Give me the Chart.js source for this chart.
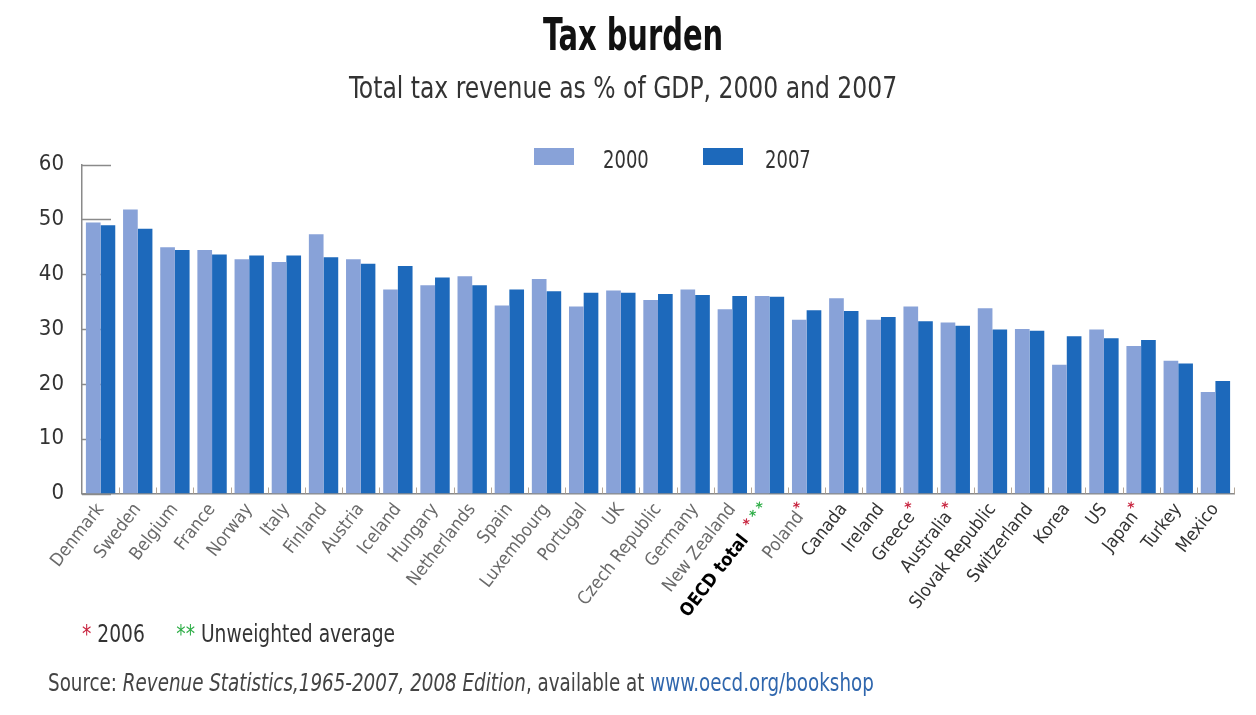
<!DOCTYPE html>
<html>
<head>
<meta charset="utf-8">
<title>Tax burden</title>
<script src="https://cdn.jsdelivr.net/npm/chart.js@4.4.1/dist/chart.umd.min.js"></script>
<style>
  html, body { margin: 0; padding: 0; background: #fff; }
  body {
    width: 1256px; height: 715px; position: relative; overflow: hidden;
    font-family: "Liberation Sans Narrow", "DejaVu Sans Condensed", "Liberation Sans", sans-serif;
    color: #333;
  }
  #chartBox { position: absolute; left: 0; top: 0; width: 1256px; height: 715px; }
  .txt { position: absolute; white-space: nowrap; line-height: 1; }
  #title { left: 633px; top: 13px; font-size: 44px; font-weight: bold; color: #111; transform: translateX(-50%) scaleX(0.73); }
  #subtitle { left: 623px; top: 73px; font-size: 30px; color: #333; transform: translateX(-50%) scaleX(0.87); }
  .legend-item { position: absolute; top: 147px; height: 20px; }
  .legend-swatch { position: absolute; top: 1px; width: 40px; height: 17px; }
  .legend-label { position: absolute; top: 0; font-size: 25px; line-height: 1; color: #333; transform-origin: left center; transform: scaleX(0.8); }
  #notes { left: 82px; top: 621px; font-size: 25px; color: #333; transform-origin: left center; transform: scaleX(0.83); }
  #notes .gap { display: inline-block; width: 38px; }
  #source { left: 48px; top: 671px; font-size: 24px; color: #444; transform-origin: left center; transform: scaleX(0.848); }
  .red { color: #c8243f; }
  .green { color: #2fae48; }
  .link { color: #2f66ad; }
</style>
</head>
<body>
<div id="chartBox"><canvas id="chart" width="1256" height="715"></canvas></div>
<div class="txt" id="title">Tax burden</div>
<div class="txt" id="subtitle">Total tax revenue as % of GDP, 2000 and 2007</div>
<div id="legend"></div>
<div class="txt" id="notes"><span class="red">*</span> 2006<span class="gap"></span><span class="green">**</span> Unweighted average</div>
<div class="txt" id="source">Source: <i>Revenue Statistics,1965-2007, 2008 Edition</i>, available at <span class="link">www.oecd.org/bookshop</span></div>

<script>
// Total tax revenue as % of GDP
const countries = [
  'Denmark', 'Sweden', 'Belgium', 'France', 'Norway', 'Italy', 'Finland', 'Austria',
  'Iceland', 'Hungary', 'Netherlands', 'Spain', 'Luxembourg', 'Portugal', 'UK',
  'Czech Republic', 'Germany', 'New Zealand', 'OECD total', 'Poland', 'Canada',
  'Ireland', 'Greece', 'Australia', 'Slovak Republic', 'Switzerland', 'Korea', 'US',
  'Japan', 'Turkey', 'Mexico'
];
const revenue2000 = [
  49.4, 51.8, 44.9, 44.4, 42.7, 42.2, 47.3, 42.7, 37.2, 38.0, 39.6, 34.3, 39.1, 34.1, 37.0,
  35.3, 37.2, 33.6, 36.0, 31.7, 35.6, 31.7, 34.1, 31.2, 33.8, 30.0, 23.5, 29.9, 26.9, 24.2, 18.5
];
const revenue2007 = [
  48.9, 48.3, 44.4, 43.6, 43.4, 43.4, 43.1, 41.9, 41.5, 39.4, 38.0, 37.2, 36.9, 36.6, 36.6,
  36.4, 36.2, 36.0, 35.9, 33.4, 33.3, 32.2, 31.4, 30.6, 29.9, 29.7, 28.7, 28.3, 28.0, 23.7, 20.5
];
const yearLabels = ['2000', '2007'];
const yTicks = [0, 10, 20, 30, 40, 50, 60];
// Footnote markers: * = 2006 figure, ** = unweighted average
const figures2006 = ['OECD total', 'Poland', 'Greece', 'Australia', 'Japan'];
const unweightedAverage = ['OECD total'];

const FONT = '"Liberation Sans Narrow", "DejaVu Sans Condensed", "Liberation Sans", sans-serif';
const COLOR_2000 = '#88a2d8';
const COLOR_2007 = '#1d69bb';
const AXIS_GREY = '#8a8a8a';

function markersFor(name) {
  const m = [];
  if (figures2006.includes(name)) m.push('red');
  if (unweightedAverage.includes(name)) { m.push('green'); m.push('green'); }
  return m;
}

// Inward tick marks on the value axis and small separators on the category axis
const axisMarks = {
  id: 'axisMarks',
  beforeDatasetsDraw(chart) {
    const { ctx, chartArea, scales } = chart;
    const y = scales.y, x = scales.x;
    ctx.save();
    ctx.strokeStyle = AXIS_GREY;
    ctx.lineWidth = 1.5;
    y.ticks.forEach(t => {
      const py = Math.round(y.getPixelForValue(t.value)) + 0.5;
      ctx.beginPath();
      ctx.moveTo(chartArea.left, py);
      ctx.lineTo(chartArea.left + 29, py);
      ctx.stroke();
    });
    ctx.strokeStyle = '#b2a596';
    ctx.lineWidth = 1;
    const n = countries.length;
    for (let i = 1; i <= n; i++) {
      const px = i < n ? (x.getPixelForTick(i - 1) + x.getPixelForTick(i)) / 2 : chartArea.right;
      const xx = Math.round(px) + 0.5;
      ctx.beginPath();
      ctx.moveTo(xx, chartArea.bottom);
      ctx.lineTo(xx, chartArea.bottom - 6);
      ctx.stroke();
    }
    ctx.restore();
  },
  afterDraw(chart) {
    // coloured footnote stars at the end of the rotated category labels
    const { ctx, scales } = chart;
    const items = scales.x.getLabelItems();
    ctx.save();
    items.forEach((item, i) => {
      const marks = markersFor(countries[i]);
      if (!marks.length) return;
      const [tx, ty] = item.options.translation;
      ctx.save();
      ctx.translate(tx, ty);
      ctx.rotate(item.options.rotation);
      ctx.font = 'bold 15px ' + FONT;
      ctx.textAlign = 'right';
      ctx.textBaseline = 'middle';
      for (let k = 0; k < marks.length; k++) {
        ctx.fillStyle = marks[marks.length - 1 - k] === 'red' ? '#c8243f' : '#2fae48';
        ctx.fillText('*', -2 - k * 10.5, item.textOffset - 5);
      }
      ctx.restore();
    });
    ctx.restore();
  }
};

const chart = new Chart(document.getElementById('chart'), {
  type: 'bar',
  data: {
    labels: countries,
    datasets: [
      { label: yearLabels[0], data: revenue2000, backgroundColor: COLOR_2000 },
      { label: yearLabels[1], data: revenue2007, backgroundColor: COLOR_2007 }
    ]
  },
  options: {
    responsive: false,
    animation: false,
    events: [],
    layout: { padding: { top: 164.5, right: 22, bottom: 0, left: 0 } },
    datasets: { bar: { categoryPercentage: 0.79, barPercentage: 1.0 } },
    plugins: {
      legend: { display: false },
      title: { display: false },
      tooltip: { enabled: false }
    },
    scales: {
      x: {
        grid: { display: false, drawTicks: false },
        border: { display: true, color: AXIS_GREY, width: 1.5 },
        ticks: {
          autoSkip: false,
          minRotation: 52,
          maxRotation: 52,
          padding: 6,
          font: (c) => ({ family: FONT, size: 18, weight: countries[c.index] === 'OECD total' ? 'bold' : 'normal' }),
          color: (c) => countries[c.index] === 'OECD total' ? '#000' : (c.index > 19 ? '#333' : '#6a6a6a'),
          callback: (v, i) => {
            const n = markersFor(countries[i]).length;
            return countries[i] + ' '.repeat(n > 1 ? 7 : n * 2);
          }
        },
        afterFit: (s) => { s.height = 221.5; }
      },
      y: {
        min: yTicks[0],
        max: yTicks[yTicks.length - 1],
        afterBuildTicks: (s) => { s.ticks = yTicks.map(v => ({ value: v })); },
        grid: { display: false, drawTicks: false },
        border: { display: true, color: AXIS_GREY, width: 1.5 },
        ticks: {
          padding: 18,
          color: '#333',
          font: { family: FONT, size: 22 }
        },
        afterFit: (s) => { s.width = 82; }
      }
    }
  },
  plugins: [axisMarks]
});

// Legend built from the chart's datasets
(function buildLegend() {
  const holder = document.getElementById('legend');
  const positions = [[534, 603], [703, 765]];
  chart.data.datasets.forEach((ds, i) => {
    const item = document.createElement('div');
    item.className = 'legend-item';
    item.style.left = positions[i][0] + 'px';
    item.innerHTML = '<div class="legend-swatch" style="left:0;background:' + ds.backgroundColor + '"></div>' +
      '<div class="legend-label" style="left:' + (positions[i][1] - positions[i][0]) + 'px">' + ds.label + '</div>';
    holder.appendChild(item);
  });
})();
</script>
</body>
</html>
